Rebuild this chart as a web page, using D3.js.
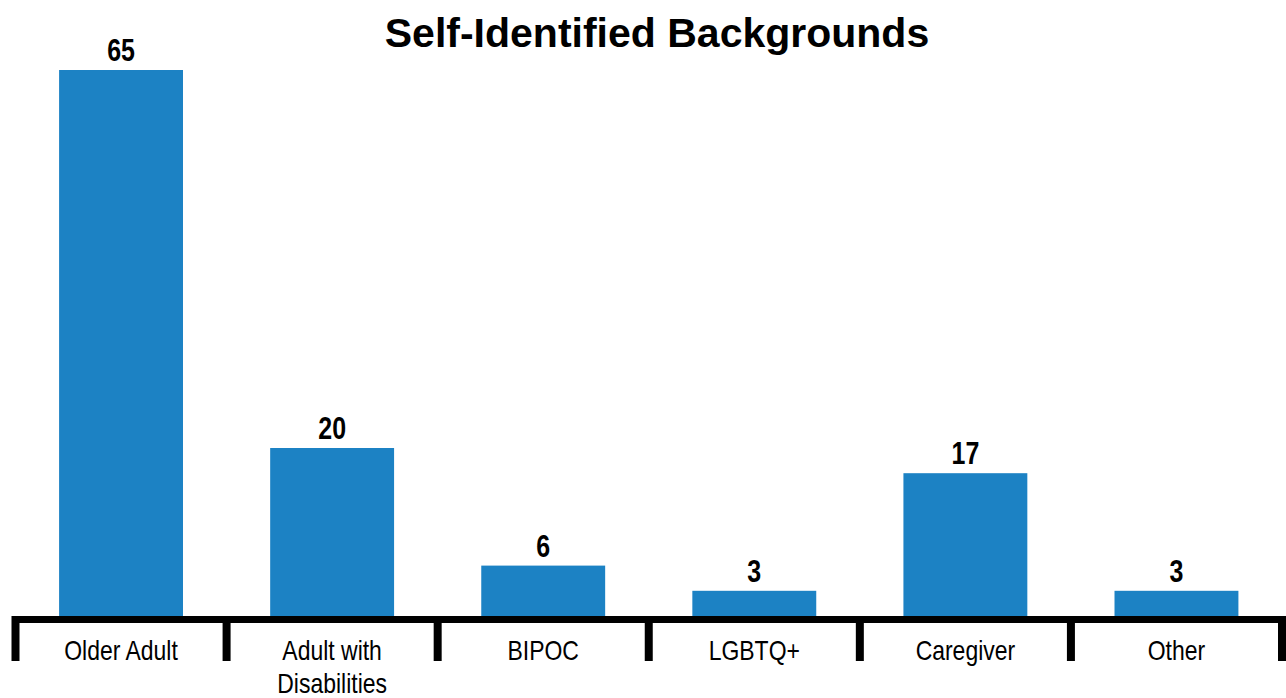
<!DOCTYPE html>
<html>
<head>
<meta charset="utf-8">
<script src="https://cdn.jsdelivr.net/npm/d3@7"></script>
<style>
  html, body { margin: 0; padding: 0; background: #fff; }
  svg { display: block; }
  .narrow { font-family: "Liberation Sans Narrow", "Arial Narrow", "Liberation Sans", Arial, sans-serif; }
</style>
</head>
<body>
<svg id="chart" width="1286" height="698"></svg>
<script>
// Survey respondents by self-identified background
const categories = ["Older Adult", "Adult with\nDisabilities", "BIPOC", "LGBTQ+", "Caregiver", "Other"];
const counts = [65, 20, 6, 3, 17, 3];
const chartTitle = "Self-Identified Backgrounds";

const W = 1286, H = 698;
const svg = d3.select("#chart");

const axisY = 616;      // top edge of the baseline rule
const x = d3.scaleBand()
  .domain(categories)
  .range([15.5, 1282])
  .paddingInner(0.413)
  .paddingOuter(0.2065);

const y = d3.scaleLinear().domain([0, 65]).range([axisY, 70]);

// Horizontal squeeze used to get a condensed face from the regular sans
const squeeze = 0.82;

// Title
svg.append("text")
  .attr("x", 657).attr("y", 47)
  .attr("text-anchor", "middle")
  .style("font-family", "'Liberation Sans', Arial, sans-serif")
  .style("font-weight", "bold")
  .style("font-size", "41px")
  .attr("fill", "#000")
  .text(chartTitle);

// Bars
svg.append("g").selectAll("rect")
  .data(categories)
  .join("rect")
  .attr("x", d => x(d))
  .attr("width", x.bandwidth())
  .attr("y", (d, i) => y(counts[i]))
  .attr("height", (d, i) => y(0) - y(counts[i]))
  .attr("fill", "#1c82c4");

// Value labels
svg.append("g").selectAll("text")
  .data(categories)
  .join("text")
  .attr("class", "narrow")
  .attr("transform", (d, i) =>
    `translate(${x(d) + x.bandwidth() / 2},${y(counts[i]) - 9}) scale(0.78,1)`)
  .attr("text-anchor", "middle")
  .style("font-weight", "bold")
  .style("font-size", "32px")
  .attr("fill", "#000")
  .text((d, i) => counts[i]);

// Baseline rule with category dividers
const step = x.step();
const start = x.range()[0];
const dividers = d3.range(categories.length + 1).map(i => start + i * step);

const axis = svg.append("g");
axis.append("rect")
  .attr("x", 12).attr("y", axisY)
  .attr("width", W - 12).attr("height", 7)
  .attr("fill", "#000");
axis.selectAll("rect.tick")
  .data(dividers)
  .join("rect")
  .attr("class", "tick")
  .attr("x", d => d - 4)
  .attr("y", axisY)
  .attr("width", 8)
  .attr("height", 45)
  .attr("fill", "#000");

// Category labels
const labels = axis.selectAll("text.cat")
  .data(categories)
  .join("text")
  .attr("class", "cat narrow")
  .attr("transform", d => `translate(${x(d) + x.bandwidth() / 2},660) scale(${squeeze},1)`)
  .attr("text-anchor", "middle")
  .style("font-size", "28px")
  .attr("fill", "#000");
labels.each(function(d) {
  const t = d3.select(this);
  d.split("\n").forEach((line, k) => {
    t.append("tspan").attr("x", 0).attr("dy", k === 0 ? 0 : 33).text(line);
  });
});
</script>
</body>
</html>
